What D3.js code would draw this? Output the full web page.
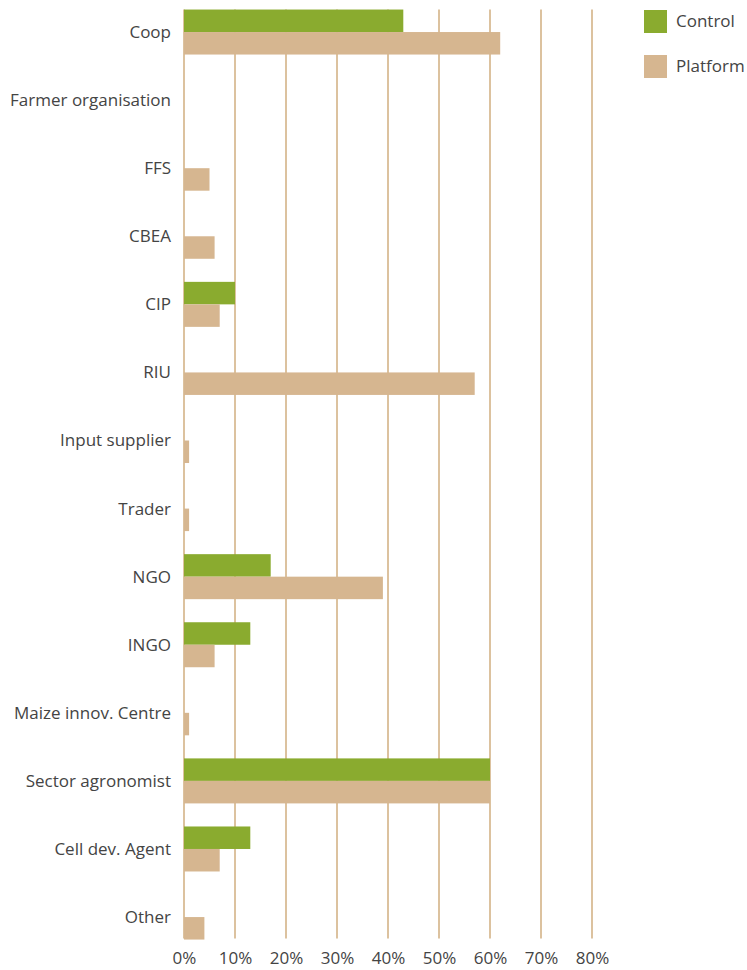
<!DOCTYPE html>
<html>
<head>
<meta charset="utf-8">
<script src="https://cdn.jsdelivr.net/npm/d3@7"></script>
<style>
  body { margin: 0; background: #fff; }
  svg { display: block; }
  text { font-family: "Open Sans", sans-serif; fill: #444; }
</style>
</head>
<body>
<script>
const categories = ["Coop", "Farmer organisation", "FFS", "CBEA", "CIP", "RIU", "Input supplier", "Trader", "NGO", "INGO", "Maize innov. Centre", "Sector agronomist", "Cell dev. Agent", "Other"];
const controlValues = [43, 0, 0, 0, 10, 0, 0, 0, 17, 13, 0, 60, 13, 0];
const platformValues = [62, 0, 5, 6, 7, 57, 1, 1, 39, 6, 1, 60, 7, 4];
const seriesNames = ["Control", "Platform"];
const colors = ["#8aab2f", "#d6b690"];
const xTicks = [0, 10, 20, 30, 40, 50, 60, 70, 80];

const W = 747, H = 970;
const FS = 17;
const svg = d3.select("body").append("svg").attr("width", W).attr("height", H);

const x = d3.scaleLinear().domain([0, 80]).range([184, 592]);
const y = d3.scaleBand().domain(categories).range([-2, 951.1]).padding(0);
const half = 22.5;
const gridTop = y(categories[0]) + y.bandwidth() / 2 - half;
const gridBottom = y(categories[categories.length - 1]) + y.bandwidth() / 2 + half - 1;

// gridlines
svg.append("g").selectAll("line").data(xTicks).join("line")
  .attr("x1", d => x(d)).attr("x2", d => x(d))
  .attr("y1", gridTop).attr("y2", gridBottom)
  .attr("stroke", "#dcc29f").attr("stroke-width", 2);

// bars
const data = categories.map((c, i) => ({ c, vals: [controlValues[i], platformValues[i]] }));
const g = svg.append("g");
data.forEach(d => {
  const cy = y(d.c) + y.bandwidth() / 2;
  d.vals.forEach((v, k) => {
    if (v <= 0) return;
    g.append("rect")
      .attr("x", x(0))
      .attr("y", k === 0 ? cy - half : cy)
      .attr("width", x(v) - x(0))
      .attr("height", half)
      .attr("fill", colors[k]);
  });
});

// category labels
svg.append("g").selectAll("text").data(categories).join("text")
  .attr("x", 171)
  .attr("y", d => y(d) + y.bandwidth() / 2)
  .attr("dy", "0.35em")
  .attr("text-anchor", "end")
  .attr("font-size", FS)
  .text(d => d);

// x axis labels
const xAxis = d3.axisBottom(x).tickValues(xTicks).tickFormat(d => d + "%").tickSize(0).tickPadding(0);
const ax = svg.append("g").attr("transform", "translate(0,952)").call(xAxis);
ax.select(".domain").remove();
ax.selectAll("text").attr("font-size", FS).attr("font-family", "Open Sans, sans-serif").attr("fill", "#444").attr("dy", "0.71em");

// legend
const leg = svg.append("g");
seriesNames.forEach((s, i) => {
  leg.append("rect").attr("x", 644).attr("y", 10 + i * 45).attr("width", 23).attr("height", 23).attr("fill", colors[i]);
  leg.append("text").attr("x", 676).attr("y", 10 + i * 45 + 11.5).attr("dy", "0.35em").attr("font-size", FS).text(s);
});
</script>
</body>
</html>
